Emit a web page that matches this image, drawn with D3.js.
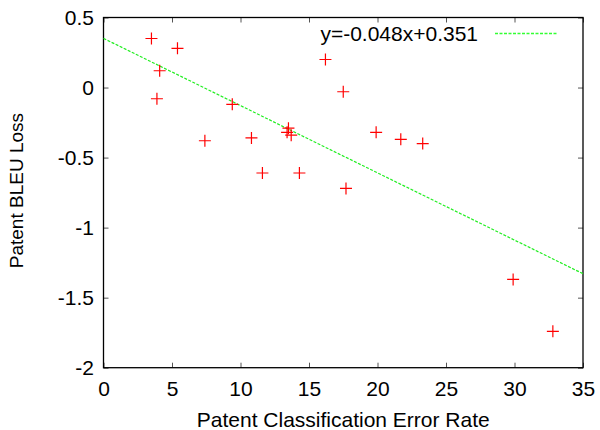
<!DOCTYPE html>
<html>
<head>
<meta charset="utf-8">
<script src="https://cdn.jsdelivr.net/npm/d3@7/dist/d3.min.js"></script>
<style>
  html, body { margin: 0; padding: 0; background: #fff; }
  svg text { font-family: "Liberation Sans", Arial, sans-serif; fill: #000; }
</style>
</head>
<body>
<svg id="svg" width="600" height="430"></svg>
<script>
// error rate vs BLEU loss, one point per patent class
const errorRate = [3.5, 5.4, 4.1, 3.9, 7.4, 9.4, 10.8, 11.6, 13.5, 13.4, 13.7, 14.3, 16.2, 17.5, 17.7, 19.9, 21.7, 23.3, 29.9, 32.8];
const bleuLoss = [0.35, 0.28, 0.12, -0.08, -0.38, -0.12, -0.36, -0.61, -0.29, -0.32, -0.34, -0.61, 0.20, -0.03, -0.72, -0.32, -0.37, -0.40, -1.37, -1.74];

// fitted line y = slope * x + intercept
const slope = -0.048;
const intercept = 0.351;
const fitLabel = 'y=-0.048x+0.351';

const xTicks = [0, 5, 10, 15, 20, 25, 30, 35];
const yTicks = [0.5, 0, -0.5, -1, -1.5, -2];

const margin = {left: 103.5, right: 17, top: 17.5, bottom: 62.3};
const width = 600, height = 430;

const svg = d3.select('#svg');

const x = d3.scaleLinear().domain([0, 35]).range([margin.left, width - margin.right]);
const y = d3.scaleLinear().domain([-2, 0.5]).range([height - margin.bottom, margin.top]);

/**
 * Axes: gnuplot style, ticks pointing inwards and mirrored
 */
function styleTicks(g) {
  g.select('.domain').remove();
  g.selectAll('.tick line').attr('stroke', '#555').attr('stroke-width', 1);
  g.selectAll('.tick text').attr('font-size', 21).attr('fill', '#000');
}

svg.append('g')
  .attr('transform', `translate(0,${y(-2)})`)
  .call(d3.axisBottom(x).tickValues(xTicks).tickSize(-5).tickPadding(13.4).tickFormat(d3.format('d')))
  .call(styleTicks);

svg.append('g')
  .attr('transform', `translate(0,${y(0.5)})`)
  .call(d3.axisTop(x).tickValues(xTicks).tickSize(-5).tickFormat(''))
  .call(styleTicks);

svg.append('g')
  .attr('transform', `translate(${x(0)},0)`)
  .call(d3.axisLeft(y).tickValues(yTicks).tickSize(-5).tickPadding(9.5).tickFormat(d => d3.format('')(d).replace('−', '-')))
  .call(styleTicks);

svg.append('g')
  .attr('transform', `translate(${x(35)},0)`)
  .call(d3.axisRight(y).tickValues(yTicks).tickSize(-5).tickFormat(''))
  .call(styleTicks);

// frame
svg.append('rect')
  .attr('x', x(0))
  .attr('y', y(0.5))
  .attr('width', x(35) - x(0))
  .attr('height', y(-2) - y(0.5))
  .attr('fill', 'none')
  .attr('stroke', '#000')
  .attr('stroke-width', 1.3);

// axis titles
svg.append('text')
  .attr('x', (x(0) + x(35)) / 2)
  .attr('y', 426.5)
  .attr('text-anchor', 'middle')
  .attr('font-size', 21)
  .text('Patent Classification Error Rate');

svg.append('text')
  .attr('transform', `translate(23,${(y(0.5) + y(-2)) / 2 - 2}) rotate(-90)`)
  .attr('text-anchor', 'middle')
  .attr('font-size', 19)
  .text('Patent BLEU Loss');

// fit line
const lineStyle = {
  'fill': 'none',
  'stroke': '#22ee22',
  'stroke-width': 1.2,
  'stroke-dasharray': '3,1.5'
};

const fitLine = svg.append('line')
  .attr('x1', x(0)).attr('y1', y(intercept))
  .attr('x2', x(35)).attr('y2', y(slope * 35 + intercept));
Object.keys(lineStyle).forEach(k => fitLine.attr(k, lineStyle[k]));

// legend
svg.append('text')
  .attr('x', 478)
  .attr('y', 34)
  .attr('dy', '0.35em')
  .attr('text-anchor', 'end')
  .attr('font-size', 21)
  .text(fitLabel);

const legendLine = svg.append('line')
  .attr('x1', 495).attr('y1', 33.5)
  .attr('x2', 557).attr('y2', 33.5);
Object.keys(lineStyle).forEach(k => legendLine.attr(k, lineStyle[k]));
legendLine.attr('stroke-width', 1.6).attr('stroke', '#33ff33');

// points
const pts = errorRate.map((e, i) => [e, bleuLoss[i]]);
const arm = 6;
svg.append('g')
  .selectAll('path')
  .data(pts)
  .join('path')
  .attr('d', d => {
    const px = x(d[0]), py = y(d[1]);
    return `M${px - arm},${py}H${px + arm}M${px},${py - arm}V${py + arm}`;
  })
  .attr('stroke', '#ff0000')
  .attr('stroke-width', 1.2)
  .attr('fill', 'none');
</script>
</body>
</html>
